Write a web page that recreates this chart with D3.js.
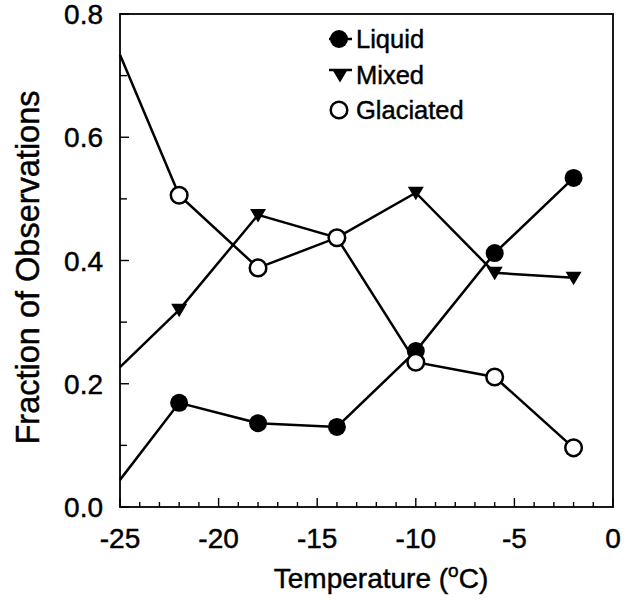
<!DOCTYPE html>
<html>
<head>
<meta charset="utf-8">
<script src="https://cdn.jsdelivr.net/npm/d3@7"></script>
<style>
  html, body { margin: 0; padding: 0; background: #fff; }
  svg { display: block; font-family: "Liberation Sans", Arial, Helvetica, sans-serif; }
  svg text { fill: #000; stroke: #000; stroke-width: 0.45px; }
</style>
</head>
<body>
<svg id="chart" width="634" height="604"></svg>
<script>
// temperatures (deg C); first point sits on the left frame, no marker drawn there
const temps = [-25, -22, -18, -14, -10, -6, -2];
const liquid = [0.044, 0.169, 0.136, 0.130, 0.253, 0.412, 0.534];
const mixed = [0.227, 0.320, 0.474, 0.437, 0.510, 0.380, 0.372];
const glaciated = [0.734, 0.506, 0.388, 0.437, 0.235, 0.211, 0.096];
const xTicks = [-25, -20, -15, -10, -5, 0];
const yTicks = [0.0, 0.2, 0.4, 0.6, 0.8];
const seriesNames = ['Liquid', 'Mixed', 'Glaciated'];

const width = 634, height = 604;
const margin = { top: 14, right: 21, bottom: 97, left: 120 };
const svg = d3.select('#chart');

const x = d3.scaleLinear().domain([-25, 0]).range([margin.left, width - margin.right]);
const y = d3.scaleLinear().domain([0, 0.8]).range([height - margin.bottom, margin.top]);

// frame
svg.append('rect')
  .attr('x', x(-25)).attr('y', y(0.8))
  .attr('width', x(0) - x(-25)).attr('height', y(0) - y(0.8))
  .attr('fill', 'none').attr('stroke', '#000').attr('stroke-width', 1.8);

// ticks (inside), minor every 1 deg / 0.1
const xMinor = d3.range(-25, 0.01, 1);
svg.append('g').selectAll('line').data(xMinor).enter().append('line')
  .attr('x1', d => x(d)).attr('x2', d => x(d))
  .attr('y1', y(0)).attr('y2', d => y(0) - (d % 5 === 0 ? 9 : 5))
  .attr('stroke', '#000').attr('stroke-width', 1.4);
const yMinor = d3.range(0, 0.801, 0.1);
svg.append('g').selectAll('line').data(yMinor).enter().append('line')
  .attr('x1', x(-25)).attr('x2', (d, i) => x(-25) + (i % 2 === 0 ? 9 : 7))
  .attr('y1', d => y(d)).attr('y2', d => y(d))
  .attr('stroke', '#000').attr('stroke-width', 1.4);

// tick labels
svg.append('g').selectAll('text').data(xTicks).enter().append('text')
  .attr('x', d => x(d)).attr('y', 548)
  .attr('text-anchor', 'middle').attr('font-size', 28)
  .text(d => d3.format('d')(d).replace('−', '-'));
svg.append('g').selectAll('text').data(yTicks).enter().append('text')
  .attr('x', 103).attr('y', d => y(d) + 10)
  .attr('text-anchor', 'end').attr('font-size', 28)
  .text(d => d.toFixed(1));

// axis titles
const xt = svg.append('text')
  .attr('x', 381).attr('y', 588)
  .attr('text-anchor', 'middle').attr('font-size', 28);
xt.append('tspan').text('Temperature (');
xt.append('tspan').attr('font-size', 19).attr('dy', -11).text('o');
xt.append('tspan').attr('dy', 11).text('C)');

svg.append('text')
  .attr('transform', `translate(39,${(y(0) + y(0.8)) / 2 + 7}) rotate(-90)`)
  .attr('text-anchor', 'middle').attr('font-size', 32.5)
  .text('Fraction of Observations');

// series
const line = d3.line().x((d, i) => x(temps[i])).y(d => y(d));
const triPath = (cx, cy) => `M${cx - 8},${cy - 6}L${cx + 8},${cy - 6}L${cx},${cy + 7.5}Z`;

function drawSeries(vals, kind) {
  const g = svg.append('g');
  g.append('path').datum(vals).attr('d', line)
    .attr('fill', 'none').attr('stroke', '#000').attr('stroke-width', 2.5);
  const pts = vals.map((v, i) => ({ t: temps[i], v })).slice(1);
  if (kind === 'tri') {
    g.selectAll('path.m').data(pts).enter().append('path').attr('class', 'm')
      .attr('d', d => triPath(x(d.t), y(d.v))).attr('fill', '#000');
  } else {
    g.selectAll('circle').data(pts).enter().append('circle')
      .attr('cx', d => x(d.t)).attr('cy', d => y(d.v))
      .attr('r', kind === 'filled' ? 9 : 8.3)
      .attr('fill', kind === 'filled' ? '#000' : '#fff')
      .attr('stroke', '#000').attr('stroke-width', kind === 'filled' ? 0 : 2.5);
  }
}
drawSeries(liquid, 'filled');
drawSeries(mixed, 'tri');
drawSeries(glaciated, 'open');

// legend
const legY = [39, 75, 110];
const kinds = ['filled', 'tri', 'open'];
const lg = svg.append('g');
seriesNames.forEach((name, i) => {
  const cy = legY[i], cx = 339;
  if (kinds[i] !== 'open') {
    lg.append('line').attr('x1', 329).attr('x2', 352)
      .attr('y1', kinds[i] === 'tri' ? cy - 5 : cy).attr('y2', kinds[i] === 'tri' ? cy - 5 : cy)
      .attr('stroke', '#000').attr('stroke-width', 2.5);
  }
  if (kinds[i] === 'tri') {
    lg.append('path').attr('d', triPath(cx + 1, cy)).attr('fill', '#000');
  } else {
    lg.append('circle').attr('cx', cx).attr('cy', cy).attr('r', kinds[i] === 'filled' ? 9 : 8.3)
      .attr('fill', kinds[i] === 'filled' ? '#000' : '#fff')
      .attr('stroke', '#000').attr('stroke-width', kinds[i] === 'filled' ? 0 : 2.5);
  }
  lg.append('text').attr('x', 356).attr('y', cy + 9).attr('font-size', 25.5).text(name);
});
</script>
</body>
</html>
